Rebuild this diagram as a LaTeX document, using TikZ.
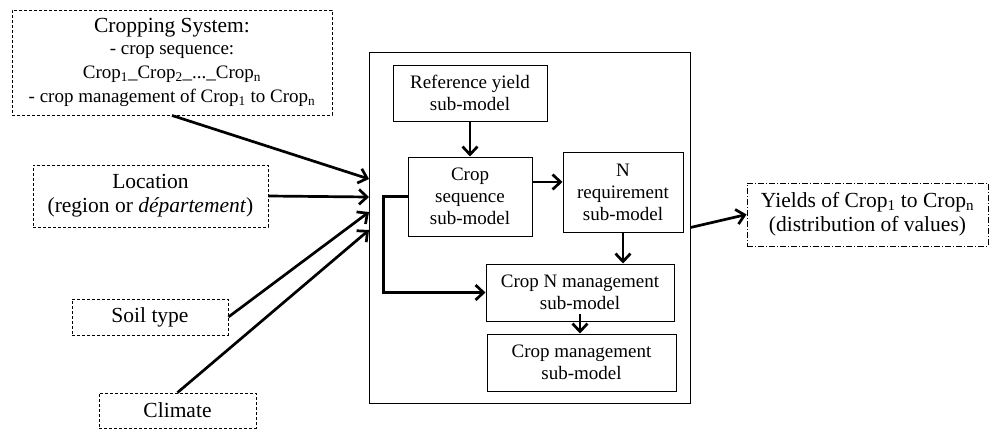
\documentclass[tikz,border=0pt]{standalone}
\usepackage{fontspec}
\setmainfont{Liberation Serif}
\usetikzlibrary{arrows.meta,calc}
\begin{document}
\begin{tikzpicture}[x=1pt,y=-1pt,
  inbox/.style={draw, line width=0.9pt, dash pattern=on 3pt off 2pt, rectangle, align=center, inner sep=0pt, font=\fontsize{21.5}{24}\selectfont},
  subbox/.style={draw, line width=1pt, rectangle, align=center, inner sep=0pt, font=\fontsize{19}{22}\selectfont},
  outbox/.style={draw, line width=0.9pt, dash pattern=on 6pt off 2pt on 1pt off 2pt, rectangle, align=center, inner sep=0pt, font=\fontsize{21.5}{24}\selectfont},
  arr/.style={line width=2.7pt, -{Straight Barb[length=8pt,width=15pt,line width=2.7pt]}}
]
\useasboundingbox (0,0) rectangle (991,429);
% inputs
\node[inbox, minimum width=320pt, minimum height=105pt] (cs) at (172,62.5)
  {Cropping System:\\[-2pt]
   {\fontsize{19}{23.5}\selectfont - crop sequence:}\\
   {\fontsize{19}{23.5}\selectfont Crop\textsubscript{1}\_Crop\textsubscript{2}\_...\_Crop\textsubscript{n}}\\
   {\fontsize{19}{23.5}\selectfont - crop management of Crop\textsubscript{1} to Crop\textsubscript{n}}};
\node[inbox, minimum width=235pt, minimum height=62pt] (loc) at (150.5,196)
  {Location\\(region or \textit{département})};
\node[inbox, minimum width=156pt, minimum height=36pt] (soil) at (150,317) {Soil type};
\node[inbox, minimum width=157pt, minimum height=35pt] (clim) at (177.5,410.5) {Climate};
% main model
\node[draw, line width=1pt, minimum width=321pt, minimum height=351pt, inner sep=0pt] (main) at (529.5,227.5) {};
\node[subbox, minimum width=154pt, minimum height=56pt] (ry) at (470,93) {Reference yield\\sub-model};
\node[subbox, minimum width=124pt, minimum height=79pt] (seq) at (470,196.5) {Crop\\sequence\\sub-model};
\node[subbox, minimum width=120pt, minimum height=80pt] (nreq) at (623,192) {N\\requirement\\sub-model};
\node[subbox, minimum width=188pt, minimum height=57pt] (cnm) at (580,292.5) {Crop N management\\sub-model};
\node[subbox, minimum width=189pt, minimum height=57pt] (cm) at (581.5,362.5) {Crop management\\sub-model};
% output
\node[outbox, minimum width=241pt, minimum height=63pt] (out) at (867.5,214.5)
  {Yields of Crop\textsubscript{1} to Crop\textsubscript{n}\\(distribution of values)};
% input arrow targets
\coordinate (t1) at (369,179);
\coordinate (t2) at (369,197);
\coordinate (t3) at (369,212);
\coordinate (t4) at (369,230);
\draw[arr] (cs.south) -- (t1);
\draw[arr] (loc.east) -- (t2);
\draw[arr] (soil.east) -- (t3);
\draw[arr] (clim.north) -- (t4);
% internal arrows
\draw[arr] (ry.south) -- (seq.north);
\draw[arr] ([yshift=14.5pt]seq.east) coordinate (a) -- (a -| nreq.west);
\draw[arr] (nreq.south) -- (nreq.south |- cnm.north);
\draw[arr] ([yshift=8pt]cnm.south) -- (cnm.south |- cm.north);
\draw[arr] (seq.west) -- ++(-24,0) |- (cnm.west);
% output arrow
\draw[arr] (main.east) -- (out.west);
\end{tikzpicture}
\end{document}
